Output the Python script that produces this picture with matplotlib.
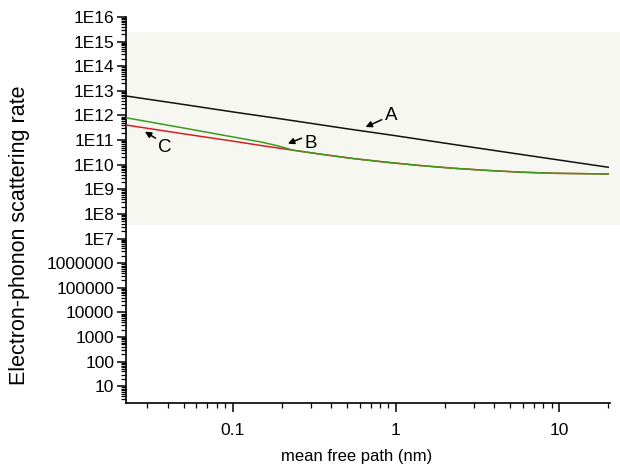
import math
import matplotlib
matplotlib.use("Agg")
import matplotlib.pyplot as plt
from matplotlib.ticker import FixedLocator, FuncFormatter, LogLocator, NullFormatter

plt.rcParams['font.family'] = ['Liberation Sans', 'DejaVu Sans']

# ---- data ----
x_A = [0.0222, 0.05, 0.1, 0.2, 0.5, 1, 2, 5, 10, 20]
y_A = [6.2e12, 2.8e12, 1.4e12, 7.2e11, 2.9e11, 1.5e11, 7.5e10, 3.05e10, 1.55e10, 7.9e9]

x_B = [0.0222, 0.05, 0.1, 0.15, 0.19, 0.234, 0.343, 0.548, 0.877, 1.4, 2.24, 3.59, 5.74, 9.2, 20]
y_B = [8.1e11, 3.1e11, 1.35e11, 8.3e10, 5.8e10, 3.9e10, 2.7e10, 1.78e10, 1.26e10,
       9.3e9, 7.2e9, 5.9e9, 5.0e9, 4.5e9, 4.2e9]

x_C = [0.0222, 0.05, 0.1, 0.15, 0.234, 0.343, 0.548, 0.877, 1.4, 2.24, 3.59, 5.74, 9.2, 20]
y_C = [4.1e11, 1.8e11, 9.1e10, 6.0e10, 3.9e10, 2.7e10, 1.78e10, 1.26e10,
       9.3e9, 7.2e9, 5.9e9, 5.0e9, 4.5e9, 4.2e9]

labels = ['A', 'B', 'C']
label_text_xy = [(0.93, 9.6e11), (0.30, 7.6e10), (0.0385, 5.0e10)]
label_tip_xy = [(0.652, 3.4e11), (0.218, 7.2e10), (0.029, 2.2e11)]
label_relpos = [(0.0, 0.35), (0.0, 0.85), (0.0, 0.95)]

y_major = [10.0 ** k for k in range(1, 17)]
band = (3.7e7, 2.5e15)

def ylab(v, pos):
    k = int(round(math.log10(v)))
    if k >= 7:
        return "1E%d" % k
    return "%d" % (10 ** k)

fig = plt.figure(figsize=(6.2, 4.66), dpi=100)
ax = fig.add_axes([126 / 620, 1 - 403 / 466, 484 / 620, 386 / 466])
ax.set_xscale('log')
ax.set_yscale('log')
ax.set_xlim(0.0222, 20.5)
ax.set_ylim(2.1, 1e16)

ax.axhspan(band[0], band[1], xmin=0, xmax=1.03, color='#f7f7f1', zorder=0, clip_on=False, lw=0)

ax.plot(x_A, y_A, color='#111111', lw=1.1, zorder=3)
ax.plot(x_C, y_C, color='#d42222', lw=1.1, zorder=3)
ax.plot(x_B, y_B, color='#3d9a1f', lw=1.1, zorder=4)

for lab, txy, pxy, rp in zip(labels, label_text_xy, label_tip_xy, label_relpos):
    ax.annotate(lab, xy=pxy, xytext=txy, ha='center', va='center', fontsize=13.5,
                arrowprops=dict(arrowstyle='-|>', color='black', lw=1.1, relpos=rp,
                                mutation_scale=9, shrinkA=0, shrinkB=0), zorder=5)

for s in ['top', 'right']:
    ax.spines[s].set_visible(False)
for s in ['left', 'bottom']:
    ax.spines[s].set_linewidth(1.2)

ax.yaxis.set_major_locator(FixedLocator(y_major))
ax.yaxis.set_major_formatter(FuncFormatter(ylab))
ax.yaxis.set_minor_locator(LogLocator(base=10, subs=range(2, 10), numticks=40))
ax.yaxis.set_minor_formatter(NullFormatter())

ax.xaxis.set_major_locator(LogLocator(base=10, numticks=10))
ax.xaxis.set_major_formatter(FuncFormatter(lambda v, p: ("%g" % v)))
ax.xaxis.set_minor_locator(LogLocator(base=10, subs=range(2, 10), numticks=20))
ax.xaxis.set_minor_formatter(NullFormatter())

ax.tick_params(axis='both', which='major', direction='out', length=6.5, width=1.1, labelsize=12.5)
ax.tick_params(axis='both', which='minor', direction='out', length=3.5, width=0.9)
ax.tick_params(axis='y', which='major', pad=2)
ax.tick_params(axis='x', which='major', pad=8)

fig.text(20 / 620, 1 - 235 / 466, 'Electron-phonon scattering rate', rotation=90,
         ha='center', va='center', fontsize=15.5)
fig.text(356.5 / 620, 1 - 457 / 466, 'mean free path (nm)', ha='center', va='center', fontsize=12)

fig.savefig('out.png', dpi=100)
